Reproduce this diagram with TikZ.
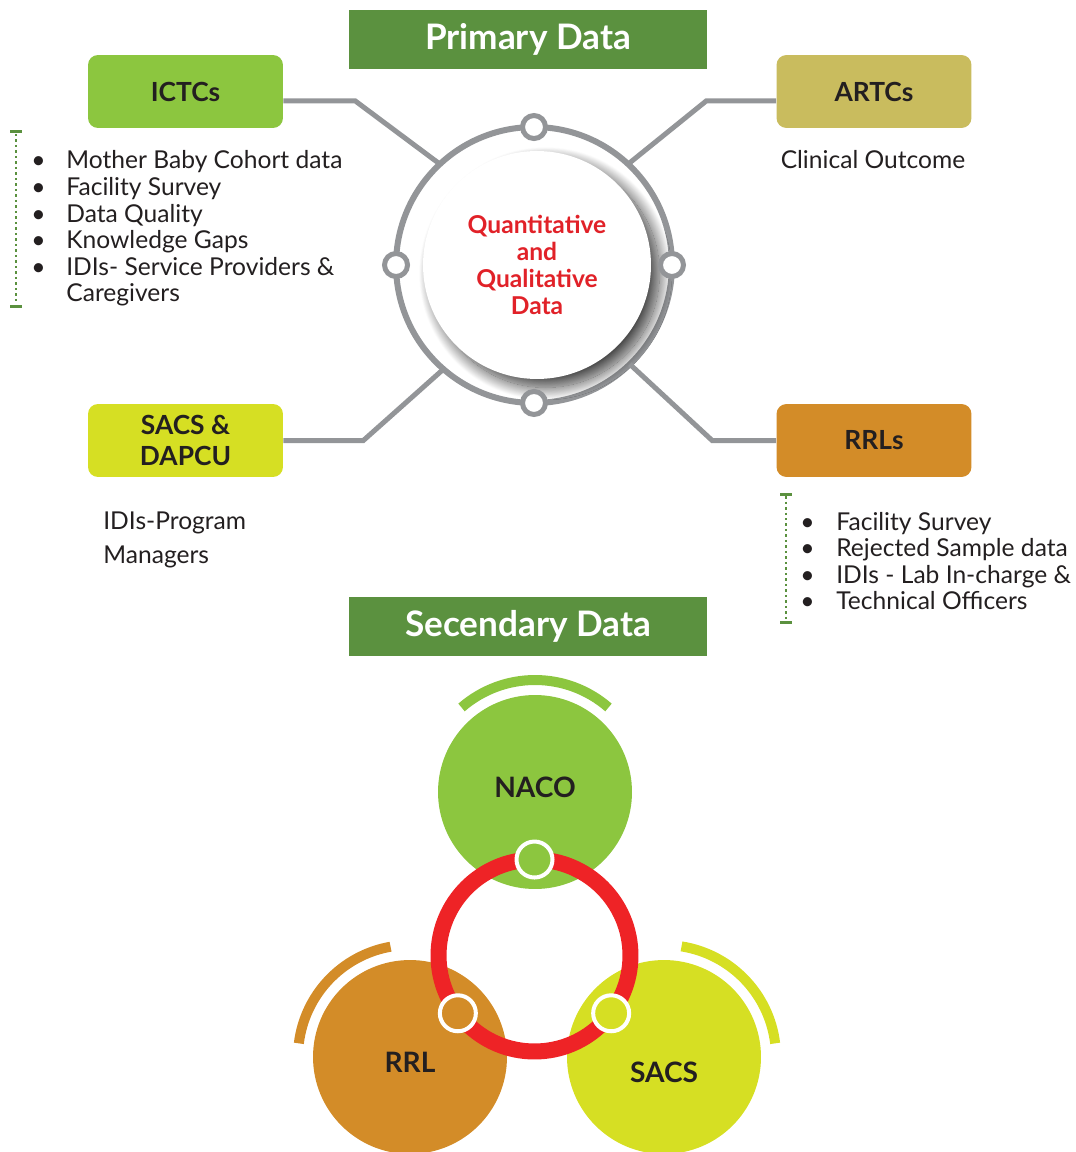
\documentclass[tikz,border=0pt]{standalone}
\usepackage{fontspec}
\setmainfont{Lato}
\usepackage{xcolor}
\usetikzlibrary{calc, positioning, shadows.blur}

\definecolor{bannergreen}{HTML}{5B913F}
\definecolor{ictcgreen}{HTML}{8CC63F}
\definecolor{artcgold}{HTML}{C9BC5E}
\definecolor{sacslime}{HTML}{D6DF23}
\definecolor{rrlamber}{HTML}{D38C28}
\definecolor{linkgray}{HTML}{939598}
\definecolor{hubred}{HTML}{E12128}
\definecolor{ringred}{HTML}{EE2326}
\definecolor{inkdark}{HTML}{231F20}

\tikzset{
    datamap/.style={
        x=0.02cm, y=0.02cm,
        text=inkdark,
        banner/.style={rectangle, fill=bannergreen, minimum width=7.16cm, minimum height=1.18cm, text=white, font=\fontsize{20}{24}\selectfont\bfseries},
        site/.style={rectangle, rounded corners=0.2cm, minimum width=3.9cm, minimum height=1.46cm, align=center, inner sep=0pt, font=\fontsize{15}{18}\selectfont\bfseries},
        link/.style={draw=linkgray, line width=0.1cm},
        hubring/.style={circle, draw=linkgray, line width=0.12cm, minimum size=5.52cm, outer sep=0pt, inner sep=0pt},
        knob/.style={circle, draw=linkgray, fill=white, line width=0.1cm, minimum size=0.46cm, inner sep=0pt},
        listtext/.style={inner sep=0pt, align=left, font=\fontsize{14}{15.1}\selectfont},
        bracket/.style={draw=bannergreen, line width=0.05cm, dash pattern=on 0.05cm off 0.06cm},
        brackettick/.style={draw=bannergreen, line width=0.06cm},
        unit/.style={circle, minimum size=3.88cm, inner sep=0pt},
        unitlabel/.style={font=\fontsize{16}{19}\selectfont\bfseries},
        halo/.style={line width=0.2cm},
        bond/.style={circle, draw=white, line width=0.08cm, minimum size=0.72cm, inner sep=0pt}
    }
}

\begin{document}
\begin{tikzpicture}[datamap]
    \useasboundingbox (0,0) rectangle (1075,-1152);

    % Primary data banner
    \node[banner] (primary) at (528,-39.5) {Primary Data};

    % Data sources
    \node[site, fill=ictcgreen] (ictc) at (185.5,-91.5) {ICTCs};
    \node[site, fill=artcgold] (artc) at (874,-91.5) {ARTCs};
    \node[site, fill=sacslime] (sacs) at (185.5,-440.5) {SACS \&\\DAPCU};
    \node[site, fill=rrlamber] (rrl) at (874,-440.5) {RRLs};

    % Central hub
    \node[hubring] (hub) at (534,-265) {};
    \node[circle, fill=white, minimum size=4.56cm, inner sep=0pt, align=center,
          text=hubred, font=\fontsize{14}{15.3}\selectfont\bfseries,
          blur shadow={shadow xshift=0.17cm, shadow yshift=-0.17cm, shadow blur radius=0.25cm, shadow blur steps=30, shadow opacity=75}]
          (core) at (537,-265) {Quantitative\\and\\Qualitative\\Data};

    % Links to the hub
    \draw[link] ([yshift=-0.19cm]ictc.east) -- ++(72,0) -- (hub.133);
    \draw[link] ([yshift=-0.19cm]artc.west) -- ++(-70,0) -- (hub.47);
    \draw[link] (sacs.east) -- ++(80,0) -- (hub.229);
    \draw[link] (rrl.west) -- ++(-64,0) -- (hub.314);

    \node[knob] (knobn) at (hub.north) {};
    \node[knob] (knobs) at (hub.south) {};
    \node[knob] (knobw) at (hub.west) {};
    \node[knob] (knobe) at (hub.east) {};

    % ICTC items
    \node[listtext, anchor=base west] (ictclist) at (31,-169) {%
        \begin{tabular}[t]{@{}p{0.7cm}@{}l@{}}
        \textbullet & Mother Baby Cohort data\\
        \textbullet & Facility Survey\\
        \textbullet & Data Quality\\
        \textbullet & Knowledge Gaps\\
        \textbullet & IDIs- Service Providers \&\\
                    & Caregivers
        \end{tabular}};
    \draw[bracket] (16,-134) -- (16,-304);
    \draw[brackettick] (10,-132) -- (22,-132);
    \draw[brackettick] (10,-306) -- (22,-306);

    % ARTC item
    \node[listtext] (artclist) at (873,-160) {Clinical Outcome};

    % SACS items
    \node[listtext, anchor=base west, font=\fontsize{14}{19.3}\selectfont] (sacslist) at (103,-563) {IDIs-Program\\Managers};

    % RRL items
    \node[listtext, anchor=base west] (rrllist) at (800,-530) {%
        \begin{tabular}[t]{@{}p{0.72cm}@{}l@{}}
        \textbullet & Facility Survey\\
        \textbullet & Rejected Sample data\\
        \textbullet & IDIs - Lab In-charge \&\\
        \textbullet & Technical Officers
        \end{tabular}};
    \draw[bracket] (786,-496) -- (786,-620);
    \draw[brackettick] (780,-494) -- (792,-494);
    \draw[brackettick] (780,-622) -- (792,-622);

    % Secondary data banner
    \node[banner] (secondary) at (528,-626.5) {Secendary Data};

    % Secondary sources
    \node[unit, fill=ictcgreen] (naco) at (535,-792) {};
    \node[unit, fill=rrlamber] (rrlunit) at (410,-1057) {};
    \node[unit, fill=sacslime] (sacsunit) at (664,-1057) {};
    \draw[halo, ictcgreen] ([shift={(49:112)}]naco.center) arc (49:131:112);
    \draw[halo, rrlamber] ([shift={(100:112)}]rrlunit.center) arc (100:173:112);
    \draw[halo, sacslime] ([shift={(7:112)}]sacsunit.center) arc (7:81:112);
    \node[unitlabel] at ([yshift=0.1cm]naco.center) {NACO};
    \node[unitlabel] at ([yshift=-0.1cm]rrlunit.center) {RRL};
    \node[unitlabel] at ([yshift=-0.3cm]sacsunit.center) {SACS};

    % Linking ring
    \node[circle, draw=ringred, line width=0.32cm, minimum size=3.84cm, outer sep=0pt, inner sep=0pt] (loop) at (534.5,-955.5) {};
    \node[bond, fill=ictcgreen] (bondn) at (loop.90) {};
    \node[bond, fill=rrlamber] (bondw) at (loop.217) {};
    \node[bond, fill=sacslime] (bonde) at (loop.323) {};
\end{tikzpicture}
\end{document}
